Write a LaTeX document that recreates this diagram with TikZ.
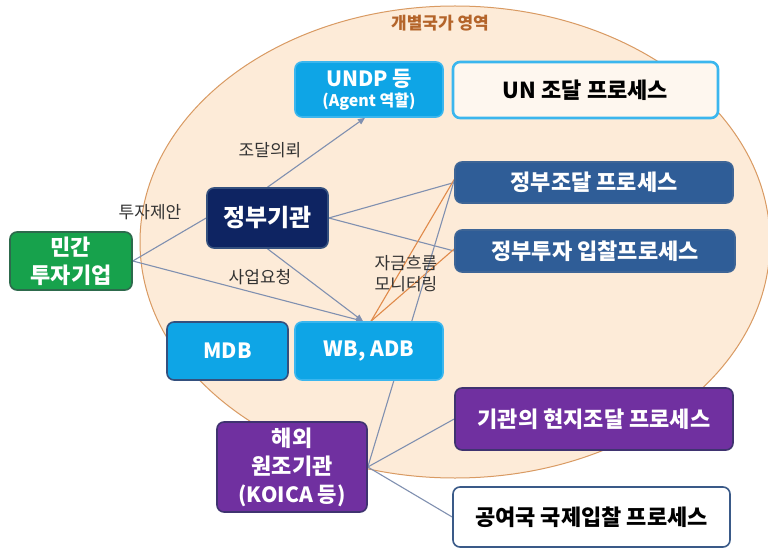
\documentclass[tikz,border=0pt]{standalone}
\usepackage{fontspec}
\setmainfont{Noto Sans CJK KR}
\usetikzlibrary{arrows.meta}
\pgfdeclarelayer{zone}
\pgfdeclarelayer{links}
\pgfsetlayers{zone,links,main}

\definecolor{zonefill}{HTML}{FDEBD8}
\definecolor{zoneline}{HTML}{D99A62}
\definecolor{zonetext}{HTML}{B4642A}
\definecolor{sky}{HTML}{0EA5E6}
\definecolor{skyline}{HTML}{3BB6EE}
\definecolor{navy}{HTML}{0E2462}
\definecolor{navyline}{HTML}{34507E}
\definecolor{steel}{HTML}{2F5D97}
\definecolor{steelline}{HTML}{3E6596}
\definecolor{leaf}{HTML}{17A24C}
\definecolor{leafline}{HTML}{2D6A4C}
\definecolor{violet}{HTML}{7030A0}
\definecolor{violetline}{HTML}{3F3370}
\definecolor{slate}{HTML}{3A5A88}
\definecolor{linkgray}{HTML}{8090B0}
\definecolor{moneyline}{HTML}{E08A4A}
\definecolor{labeltext}{HTML}{333333}

\tikzset{
  box/.style={rectangle, rounded corners=7pt, line width=1.6pt, align=center,
    inner sep=0pt, font=\bfseries\fontsize{22}{26}\selectfont},
  skybox/.style={box, fill=sky, draw=skyline, text=white},
  navybox/.style={box, fill=navy, draw=navyline, text=white},
  steelbox/.style={box, fill=steel, draw=steelline, text=white},
  leafbox/.style={box, fill=leaf, draw=leafline, text=white},
  violetbox/.style={box, fill=violet, draw=violetline, text=white},
  link/.style={draw=linkgray, line width=1.1pt},
  money/.style={draw=moneyline, line width=1.1pt},
  tip/.style={-{Triangle[length=7pt,width=6pt]}},
  lbl/.style={font=\fontsize{17}{20}\selectfont, text=labeltext, align=center, inner sep=0pt},
}

\begin{document}
\begin{tikzpicture}[x=1pt, y=-1pt]
\useasboundingbox (0,0) rectangle (768,548);
\clip (0,0) rectangle (768,548);

% country zone
\begin{pgfonlayer}{zone}
  \fill[white] (0,0) rectangle (768,548);
  \draw[fill=zonefill, draw=zoneline, line width=1pt] (455,242) ellipse [x radius=315, y radius=236];
\end{pgfonlayer}
\node[lbl, text=zonetext, font=\bfseries\fontsize{17}{20}\selectfont] (zone) at (440,23) {개별국가 영역};

% boxes
\node[skybox, minimum width=148pt, minimum height=55pt, font=\bfseries\fontsize{21}{24}\selectfont] (undp) at (369,89.5)
  {UNDP 등\\[-4pt]{\fontsize{16}{19}\selectfont (Agent 역할)}};
\node[box, fill=zonefill!40!white, draw=skyline, line width=2.6pt, minimum width=265pt, minimum height=56pt, text=black] (un) at (585.5,90)
  {UN 조달 프로세스};
\node[navybox, minimum width=121pt, minimum height=60pt, font=\bfseries\fontsize{24}{27}\selectfont] (gov) at (267.5,218) {정부기관};
\node[leafbox, minimum width=122pt, minimum height=58pt, font=\bfseries\fontsize{22}{28}\selectfont] (priv) at (71,261) {민간\\투자기업};
\node[steelbox, minimum width=278pt, minimum height=41pt] (govproc) at (594,182.5) {정부조달 프로세스};
\node[steelbox, minimum width=280pt, minimum height=42pt] (govinv) at (595,251) {정부투자 입찰프로세스};
\node[skybox, draw=navyline, minimum width=121pt, minimum height=58pt, font=\bfseries\fontsize{21}{24}\selectfont] (mdb) at (227.5,351) {MDB};
\node[skybox, minimum width=148pt, minimum height=58pt, font=\bfseries\fontsize{21}{24}\selectfont] (wb) at (369,351) {WB, ADB};
\node[violetbox, minimum width=150pt, minimum height=90pt, font=\bfseries\fontsize{22}{28}\selectfont] (koica) at (292,467) {해외\\원조기관\\{\fontsize{21}{28}\selectfont (KOICA 등)}};
\node[violetbox, minimum width=278pt, minimum height=62pt] (local) at (594,419) {기관의 현지조달 프로세스};
\node[box, fill=white, draw=slate, minimum width=277pt, minimum height=60pt, text=black] (donor) at (591.5,517) {공여국 국제입찰 프로세스};

% connectors
\begin{pgfonlayer}{links}
  \draw[link, tip] (gov.north) -- ([xshift=-4pt]undp.south);
  \draw[link] (priv.east) -- (gov.west);
  \draw[link, tip] (priv.east) -- ([xshift=-6pt]wb.north);
  \draw[link, tip] (gov.south) -- ([xshift=-6pt]wb.north);
  \draw[link] (gov.east) -- (govproc.west);
  \draw[link] (gov.east) -- (govinv.west);
  \draw[money] ([xshift=2pt]wb.north) -- ([yshift=3pt]govproc.west);
  \draw[money] ([xshift=2pt]wb.north) -- ([yshift=2pt]govinv.west);
  \draw[link] (koica.east) -- ([yshift=2pt]govproc.west);
  \draw[link] (koica.east) -- (local.west);
  \draw[link] (koica.east) -- (donor.west);
\end{pgfonlayer}

% connector labels
\node[lbl] (ask) at (270,150) {조달의뢰};
\node[lbl] (offer) at (150,212) {투자제안};
\node[lbl] (request) at (260,277) {사업요청};
\node[lbl, font=\fontsize{17}{21}\selectfont] (monitor) at (406,274) {자금흐름\\모니터링};
\end{tikzpicture}
\end{document}
